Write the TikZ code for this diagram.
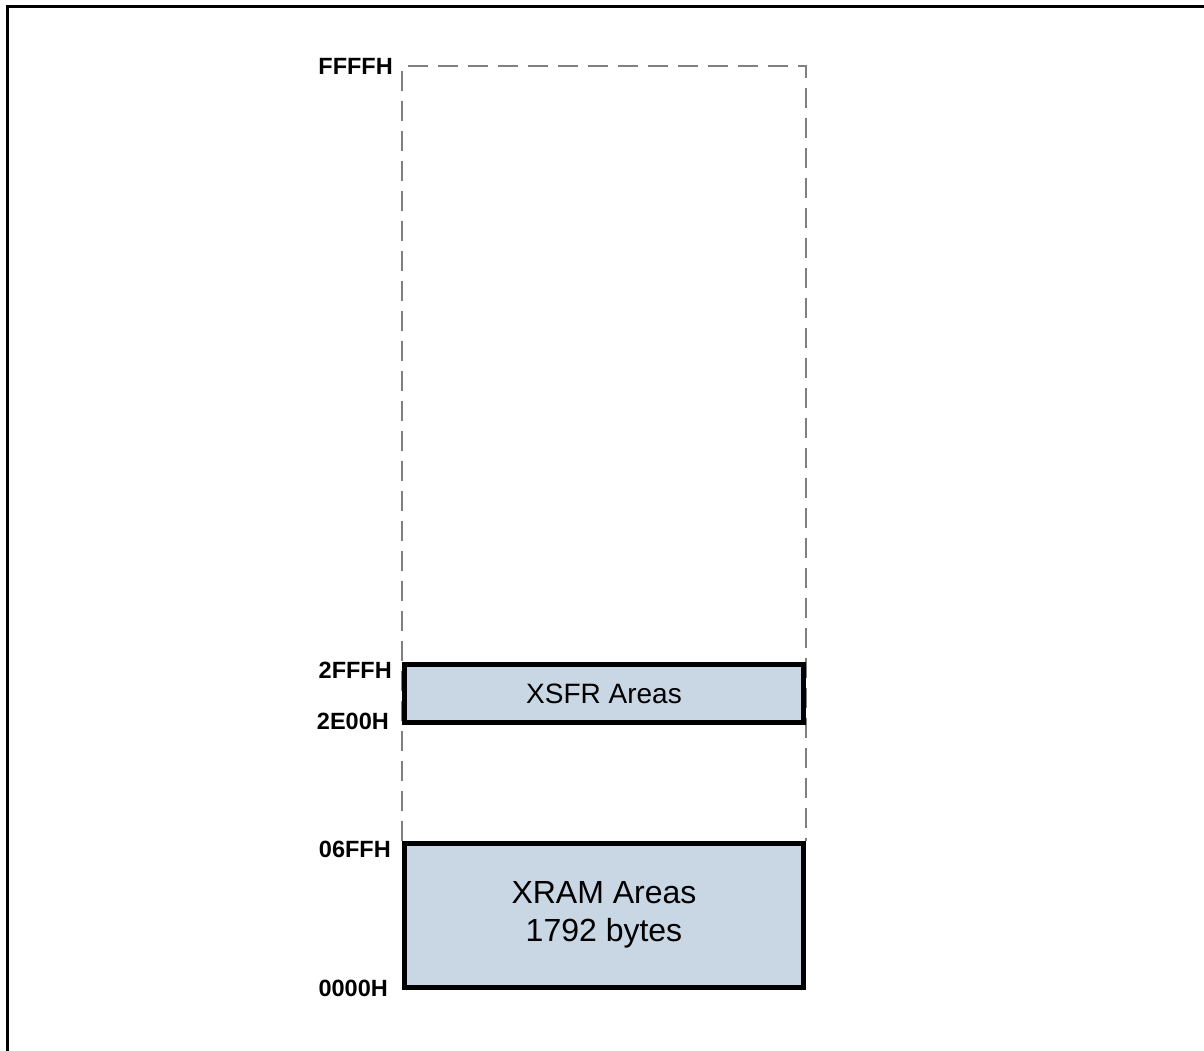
\documentclass[tikz,border=0pt]{standalone}
\usepackage{fontspec}
\setmainfont{Liberation Sans}
\usetikzlibrary{backgrounds}
\definecolor{boxfill}{HTML}{C9D6E4}
\definecolor{dashgrey}{HTML}{808080}
\begin{document}
\begin{tikzpicture}[x=1pt,y=-1pt,
  addr/.style={anchor=base east,inner sep=0pt,font=\fontsize{23.5}{27}\selectfont\bfseries},
  membox/.style={draw=black,line width=5pt,fill=boxfill,inner sep=0pt,
    minimum width=399pt,align=center},
  dashline/.style={draw=dashgrey,line width=1.8pt,dash pattern=on 20pt off 10pt}]
\useasboundingbox (0,0) rectangle (1204,1050);
% outer frame (cut at right and bottom)
\draw[line width=3pt] (7,1100) -- (7,6.5) -- (1300,6.5);
% memory areas
\node[membox,minimum height=58pt,font=\fontsize{28}{32}\selectfont] (xsfr) at (604,693.5) {XSFR Areas};
\node[membox,minimum height=144.5pt,font=\fontsize{32}{38}\selectfont] (xram) at (604,915.25) {XRAM Areas\\1792 bytes};
% dashed outline of the 64K space
\coordinate (top) at (604,66);
\begin{scope}[on background layer]
\draw[dashline] (xram.north west) -- (xram.north west |- top) -| (xram.north east);
\end{scope}
% address labels
\node[addr] (lffff) at (393,74) {FFFFH};
\node[addr] (l2fff) at (392,678) {2FFFH};
\node[addr] (l2e00) at (389,729) {2E00H};
\node[addr] (l06ff) at (391,857) {06FFH};
\node[addr] (l0000) at (388,996) {0000H};
\end{tikzpicture}
\end{document}
